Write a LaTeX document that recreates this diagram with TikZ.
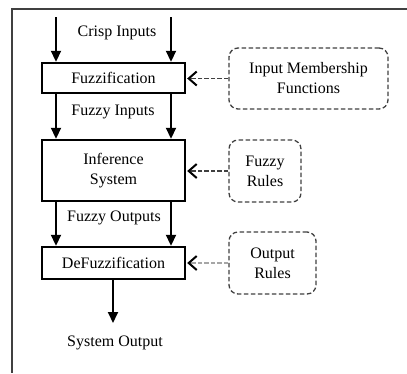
\documentclass[tikz,border=0pt]{standalone}
\usepackage{fontspec}
\setmainfont{Liberation Serif}
\usetikzlibrary{arrows.meta}
\begin{document}
\begin{tikzpicture}[x=1pt,y=-1pt,
  txt/.style={font=\fontsize{16}{20}\selectfont, inner sep=0pt},
  block/.style={draw, line width=2.4pt, inner sep=0pt, align=center, font=\fontsize{16}{20}\selectfont},
  dbox/.style={draw=black!75, dashed, dash pattern=on 4.5pt off 2.5pt, line width=1.3pt, rounded corners=9pt, inner sep=0pt, align=center, font=\fontsize{16}{20}\selectfont},
  flow/.style={line width=1.8pt, -{Triangle[length=11pt,width=10pt]}},
  feed/.style={draw=black!75, dashed, dash pattern=on 4.5pt off 2pt, line width=1.3pt, shorten >=1pt, -{Straight Barb[length=8pt,width=14pt,line width=2pt,color=black]}},
  frame/.style={draw=black!75, line width=1.2pt}]
\useasboundingbox (0,0) rectangle (407,373);
% frame
\coordinate (ftr) at (407,9);
\coordinate (ftl) at (12,9);
\coordinate (fbl) at (12,373);
\draw[frame] (ftr) -- (ftl) -- (fbl);
% blocks
\node[block, minimum width=143pt, minimum height=30pt] (fuzz) at (113.5,78) {Fuzzification};
\node[block, minimum width=143pt, minimum height=61pt] (inf) at (113.5,170.5) {Inference\\System};
\node[block, minimum width=143pt, minimum height=32pt] (defuzz) at (113.5,263) {DeFuzzification};
% dashed boxes
\node[dbox, minimum width=159pt, minimum height=61pt] (imf) at (308.5,78.5) {Input Membership\\Functions};
\node[dbox, minimum width=72pt, minimum height=62pt] (fr) at (265,171) {Fuzzy\\Rules};
\node[dbox, minimum width=87pt, minimum height=62pt] (outr) at (272.5,263) {Output\\Rules};
% inputs
\coordinate (in1) at (56,17);
\coordinate (in2) at (171,17);
\draw[flow] (in1) -- (fuzz.north -| in1);
\draw[flow] (in2) -- (fuzz.north -| in2);
\node[txt] (crisp) at (117,33) {Crisp Inputs};
% fuzzy inputs
\draw[flow] (fuzz.south -| in1) -- (inf.north -| in1);
\draw[flow] (fuzz.south -| in2) -- (inf.north -| in2);
\node[txt] (fin) at (113,112) {Fuzzy Inputs};
% fuzzy outputs
\draw[flow] (inf.south -| in1) -- (defuzz.north -| in1);
\draw[flow] (inf.south -| in2) -- (defuzz.north -| in2);
\node[txt] (fout) at (114,218) {Fuzzy Outputs};
% system output
\coordinate (oend) at (113,323);
\draw[flow] (defuzz.south -| oend) -- (oend);
\node[txt] (sout) at (115,343) {System Output};
% feedback dashed arrows
\draw[feed] (imf.west) -- (fuzz.east |- imf.west);
\draw[feed] (fr.west) -- (inf.east |- fr.west);
\draw[feed, draw=black!35] (outr.west) -- (defuzz.east |- outr.west);
\end{tikzpicture}
\end{document}
